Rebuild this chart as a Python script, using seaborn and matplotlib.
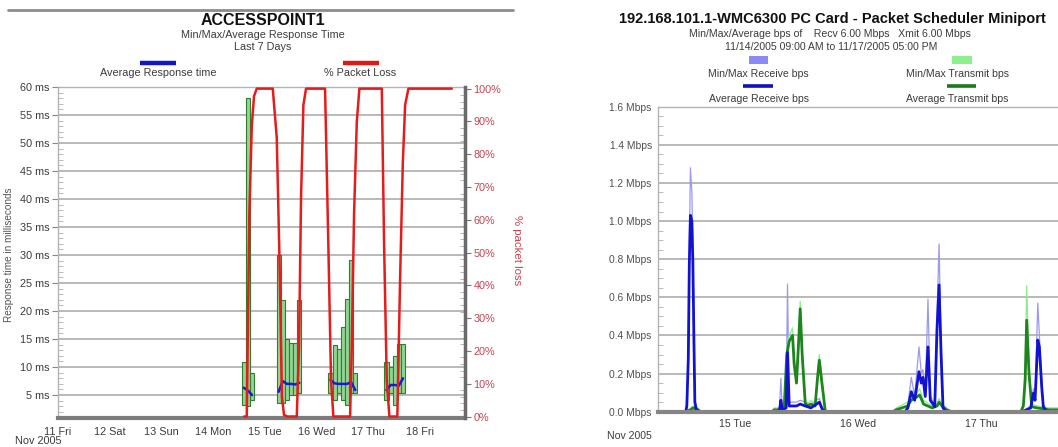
import matplotlib
matplotlib.use("Agg")
import matplotlib.pyplot as plt
from matplotlib.lines import Line2D
from matplotlib.patches import Rectangle
from matplotlib.ticker import MultipleLocator
import numpy as np
import seaborn as sns

# ---------------- data: left chart (ACCESSPOINT1) ----------------
day_ticks = [11, 12, 13, 14, 15, 16, 17, 18]
day_labels = ["11 Fri", "12 Sat", "13 Sun", "14 Mon", "15 Tue", "16 Wed", "17 Thu", "18 Fri"]
ms_ticks = [5, 10, 15, 20, 25, 30, 35, 40, 45, 50, 55, 60]
pct_ticks = [0, 10, 20, 30, 40, 50, 60, 70, 80, 90, 100]

rt_start = [14.553, 14.633, 14.713,
            15.226, 15.306, 15.386, 15.466, 15.546, 15.626,
            16.228, 16.308, 16.388, 16.468, 16.548, 16.628, 16.708,
            17.311, 17.391, 17.471, 17.551, 17.631]
rt_group = [1, 1, 1, 2, 2, 2, 2, 2, 2, 3, 3, 3, 3, 3, 3, 3, 4, 4, 4, 4, 4]
rt_min = [3.2, 3.0, 4.1, 3.5, 3.5, 4.1, 5.0, 5.0, 5.3,
          5.3, 4.1, 5.3, 4.1, 3.2, 5.3, 5.3, 4.1, 5.3, 3.2, 5.3, 5.3]
rt_max = [10.9, 58.0, 9.0, 30.0, 22.0, 15.0, 14.3, 14.3, 22.0,
          9.0, 13.9, 13.2, 17.1, 22.1, 29.1, 9.0, 10.9, 10.0, 12.0, 14.1, 14.1]
rt_avg = [6.3, 5.8, 5.0, 5.6, 7.5, 7.0, 7.0, 6.9, 7.2,
          7.7, 7.1, 7.0, 7.0, 7.0, 7.3, 5.9, 5.9, 6.8, 6.8, 6.7, 8.0]

loss_day = [14.60, 14.65, 14.70, 14.747, 14.79, 14.843, 15.153, 15.23, 15.28, 15.33, 15.37,
            15.435, 15.617, 15.66, 15.70, 15.745, 15.796, 16.164, 16.228, 16.28, 16.325,
            16.648, 16.68, 16.725, 16.778, 16.828, 17.261, 17.306, 17.357, 17.408, 17.562,
            17.615, 17.667, 17.712, 17.776, 18.615]
loss_pct = [0, 0, 62, 88.5, 97.7, 100, 100, 85, 50, 6, 0.5,
            0, 0, 21, 67, 95, 100, 100, 52, 11, 0,
            0, 21, 62, 90, 100, 100, 52, 11, 0, 0,
            42, 77, 95, 100, 100]

# ---------------- data: right chart (bps) ----------------
bps_ticks = [0.0, 0.2, 0.4, 0.6, 0.8, 1.0, 1.2, 1.4, 1.6]
bps_day_ticks = [15, 16, 17]
bps_day_labels = ["15 Tue", "16 Wed", "17 Thu"]

rx_t = [14.375, 14.600, 14.609, 14.621, 14.629, 14.638, 14.650, 14.658, 14.666, 14.674, 14.686, 14.707,
        15.300, 15.360, 15.372, 15.384, 15.415, 15.426, 15.440, 15.467, 15.499, 15.529, 15.570, 15.616,
        15.684, 15.710, 15.733,
        16.380, 16.403, 16.431, 16.458, 16.493, 16.512, 16.525, 16.544, 16.566, 16.585, 16.621, 16.639,
        16.656, 16.672, 16.688, 16.716,
        17.330, 17.400, 17.421, 17.435, 17.457, 17.470, 17.489, 17.502, 17.530, 17.708]
rx_avg = [0, 0, 0.03, 0.28, 0.77, 1.03, 1.00, 0.78, 0.40, 0.05, 0.01, 0,
          0, 0, 0.06, 0.01, 0.02, 0.31, 0.03, 0.03, 0.03, 0.04, 0.03, 0.02, 0.05, 0.01, 0,
          0, 0.02, 0.105, 0.06, 0.21, 0.15, 0.18, 0.08, 0.34, 0.06, 0.026, 0.43, 0.665, 0.31, 0.02, 0,
          0, 0.02, 0.097, 0.06, 0.376, 0.34, 0.13, 0.026, 0, 0]
rx_max = [0, 0, 0.05, 0.35, 0.85, 1.28, 1.15, 0.85, 0.45, 0.07, 0.02, 0,
          0, 0, 0.175, 0.02, 0.04, 0.67, 0.05, 0.05, 0.05, 0.06, 0.05, 0.04, 0.07, 0.02, 0,
          0, 0.04, 0.18, 0.08, 0.34, 0.20, 0.22, 0.10, 0.59, 0.08, 0.04, 0.50, 0.88, 0.36, 0.03, 0,
          0, 0.03, 0.12, 0.08, 0.57, 0.40, 0.16, 0.04, 0, 0]

tx_t = [14.600, 14.640, 14.660, 14.700, 14.720,
        15.300, 15.318, 15.350, 15.400, 15.420, 15.440, 15.467, 15.480, 15.499, 15.515, 15.529,
        15.545, 15.570, 15.590, 15.616, 15.650, 15.670, 15.684, 15.700, 15.733,
        16.280, 16.309, 16.400, 16.430, 16.470, 16.498, 16.530, 16.600, 16.640, 16.656, 16.680,
        16.716, 16.757,
        17.320, 17.340, 17.355, 17.367, 17.386, 17.408, 17.450, 17.550, 17.708]
tx_avg = [0, 0.01, 0.02, 0.01, 0,
          0, 0.01, 0.01, 0.03, 0.30, 0.37, 0.40, 0.25, 0.15, 0.35, 0.54, 0.30, 0.044, 0.03, 0.04,
          0.03, 0.18, 0.27, 0.18, 0,
          0, 0.01, 0.03, 0.06, 0.075, 0.088, 0.04, 0.02, 0.03, 0.05, 0.03, 0.01, 0,
          0, 0.03, 0.17, 0.48, 0.20, 0.026, 0.02, 0.01, 0.01]
tx_max = [0, 0.02, 0.03, 0.02, 0,
          0, 0.02, 0.02, 0.05, 0.34, 0.40, 0.44, 0.28, 0.18, 0.38, 0.58, 0.33, 0.06, 0.04, 0.06,
          0.04, 0.20, 0.30, 0.20, 0,
          0, 0.02, 0.05, 0.08, 0.09, 0.12, 0.06, 0.03, 0.04, 0.07, 0.04, 0.02, 0,
          0, 0.05, 0.25, 0.66, 0.24, 0.04, 0.03, 0.02, 0.02]

# ---------------- styling ----------------
sns.set_theme(style="white")
plt.rcParams["font.family"] = ["Liberation Sans", "DejaVu Sans"]

W, H = 1058, 447
fig = plt.figure(figsize=(W / 100, H / 100), dpi=100)
fig.patch.set_facecolor("white")

GRID = "#a6a6a6"
TXT = "#3c3c3c"
LOSS_TXT = "#c24452"
FS = 7.8


def px_ax(x0, y0, x1, y1):
    return fig.add_axes([x0 / W, 1 - y1 / H, (x1 - x0) / W, (y1 - y0) / H])


def ftext(x, y, s, **kw):
    kw.setdefault("ha", "center")
    kw.setdefault("va", "center")
    return fig.text(x / W, 1 - y / H, s, **kw)


# ================= LEFT CHART =================
fig.add_artist(Line2D([8 / W, 513 / W], [1 - 9.5 / H, 1 - 9.5 / H], color="#8c8c8c", lw=2))
ftext(263, 20.5, "ACCESSPOINT1", fontsize=11.5, fontweight="bold", color="#111111")
ftext(263, 35, "Min/Max/Average Response Time", fontsize=FS, color=TXT)
ftext(263, 46.5, "Last 7 Days", fontsize=FS, color=TXT)

fig.add_artist(Line2D([140 / W, 176 / W], [1 - 62.5 / H, 1 - 62.5 / H], color="#1414c8", lw=3.2,
                      solid_capstyle="butt"))
ftext(158, 73.5, "Average Response time", fontsize=FS, color=TXT)
fig.add_artist(Line2D([343 / W, 379 / W], [1 - 62.5 / H, 1 - 62.5 / H], color="#e01818", lw=3.2,
                      solid_capstyle="butt"))
ftext(360, 73.5, "% Packet Loss", fontsize=FS, color=TXT)

axL = px_ax(58, 87, 465, 417.5)
axL.set_facecolor("white")
axL.set_xlim(11, 18.87)
axL.set_ylim(1.0, 60)

axL.bar(rt_start, np.array(rt_max) - np.array(rt_min), bottom=rt_min, width=0.08, align="edge",
        color="#93d493", edgecolor="#2f7d2f", linewidth=0.8, zorder=3)
sns.lineplot(x=np.array(rt_start) + 0.04, y=rt_avg, units=rt_group, estimator=None, ax=axL,
             color="#1a1ad0", lw=1.8, zorder=4, legend=False)

axL.set_yticks(ms_ticks)
axL.set_yticklabels([f"{v} ms" for v in ms_ticks], fontsize=FS, color=TXT)
axL.yaxis.set_minor_locator(MultipleLocator(1))
axL.set_xticks(day_ticks)
axL.set_xticklabels(day_labels, fontsize=FS, color=TXT)
axL.tick_params(axis="y", which="major", direction="out", length=4, width=0.8, color="#888888", pad=2)
axL.tick_params(axis="y", which="minor", direction="in", length=3.5, width=0.6, color="#b0b0b0", left=True)
axL.tick_params(axis="x", which="major", direction="in", length=5, width=0.8, color="#999999", pad=7)
axL.grid(axis="y", which="major", color=GRID, lw=1.1)
axL.set_axisbelow(True)
for side in ["left", "top"]:
    axL.spines[side].set_color("#b4b4b4")
    axL.spines[side].set_linewidth(1.0)
axL.spines["right"].set_visible(False)
axL.spines["bottom"].set_color("#7c7c7c")
axL.spines["bottom"].set_linewidth(3)
axL.spines["bottom"].set_zorder(10)
axL.set_xlabel("")
axL.set_ylabel("")

axR = axL.twinx()
axR.set_ylim(-0.3, 100.5)
sns.lineplot(x=loss_day, y=loss_pct, ax=axR, color="#e41c1c", lw=1.8, estimator=None,
             zorder=5, legend=False)
axR.set_yticks(pct_ticks)
axR.set_yticklabels([f"{v}%" for v in pct_ticks], fontsize=FS, color=LOSS_TXT)
axR.yaxis.set_minor_locator(MultipleLocator(2))
axR.tick_params(axis="y", which="major", direction="out", length=4, width=0.8, color="#777777", pad=2)
axR.tick_params(axis="y", which="minor", direction="in", length=3.5, width=0.6, color="#aaaaaa", right=True)
for side in ["left", "top", "bottom"]:
    axR.spines[side].set_visible(False)
axR.spines["right"].set_color("#6a6a6a")
axR.spines["right"].set_linewidth(2.5)
axR.set_ylabel("")
axR.set_xlabel("")

ftext(517, 250, "% packet loss", fontsize=8.2, color=LOSS_TXT, rotation=-90)
ftext(9, 255, "Response time in milliseconds", fontsize=7.2, color="#555555", rotation=90)
ftext(15, 441, "Nov 2005", fontsize=FS, color=TXT, ha="left")

# ================= RIGHT CHART =================
ftext(832, 18.5, "192.168.101.1-WMC6300 PC Card - Packet Scheduler Miniport", fontsize=10.5,
      fontweight="bold", color="#111111")
ftext(830, 34, "Min/Max/Average bps of    Recv 6.00 Mbps   Xmit 6.00 Mbps", fontsize=7.6, color=TXT)
ftext(831, 46.5, "11/14/2005 09:00 AM to 11/17/2005 05:00 PM", fontsize=7.6, color=TXT)

fig.add_artist(Rectangle((749 / W, 1 - 64 / H), 19 / W, 7.5 / H, facecolor="#8a8af0", edgecolor="none"))
ftext(758, 74, "Min/Max Receive bps", fontsize=7.6, color=TXT)
fig.add_artist(Line2D([743 / W, 773 / W], [1 - 86 / H, 1 - 86 / H], color="#1010c0", lw=2.6,
                      solid_capstyle="butt"))
ftext(759, 99, "Average Receive bps", fontsize=7.6, color=TXT)

fig.add_artist(Rectangle((952 / W, 1 - 64 / H), 20 / W, 7.5 / H, facecolor="#8cf08c", edgecolor="none"))
ftext(957, 74, "Min/Max Transmit bps", fontsize=7.6, color=TXT)
fig.add_artist(Line2D([947 / W, 976 / W], [1 - 86 / H, 1 - 86 / H], color="#1a7a1a", lw=2.6,
                      solid_capstyle="butt"))
ftext(957, 99, "Average Transmit bps", fontsize=7.6, color=TXT)

axB = px_ax(658, 106.7, 1068.7, 411.7)
axB.set_facecolor("white")
axB.set_xlim(14.375, 17.708)
axB.set_ylim(0, 1.6)

sns.lineplot(x=rx_t, y=rx_max, ax=axB, color="#9a9aee", lw=0.9, estimator=None, legend=False, zorder=2)
sns.lineplot(x=tx_t, y=tx_max, ax=axB, color="#90ea90", lw=0.9, estimator=None, legend=False, zorder=2)
sns.lineplot(x=tx_t, y=tx_avg, ax=axB, color="#1c861c", lw=2.0, estimator=None, legend=False, zorder=3)
sns.lineplot(x=rx_t, y=rx_avg, ax=axB, color="#1212d2", lw=2.0, estimator=None, legend=False, zorder=4)

axB.set_yticks(bps_ticks)
axB.set_yticklabels([f"{v:.1f} Mbps" for v in bps_ticks], fontsize=7.4, color="#505050")
axB.yaxis.set_minor_locator(MultipleLocator(0.05))
axB.set_xticks(bps_day_ticks)
axB.set_xticklabels(bps_day_labels, fontsize=7.6, color=TXT)
axB.tick_params(axis="y", which="major", direction="out", length=3.5, width=0.8, color="#888888", pad=1)
axB.tick_params(axis="y", which="minor", direction="in", length=3.5, width=0.6, color="#b0b0b0", left=True)
axB.tick_params(axis="x", which="major", direction="in", length=6, width=0.8, color="#bbbbbb", pad=5)
axB.grid(axis="y", which="major", color=GRID, lw=1.1)
axB.set_axisbelow(True)
for side in ["left", "top"]:
    axB.spines[side].set_color("#b4b4b4")
    axB.spines[side].set_linewidth(1.0)
axB.spines["right"].set_visible(False)
axB.spines["bottom"].set_color("#858585")
axB.spines["bottom"].set_linewidth(3)
axB.spines["bottom"].set_zorder(10)
axB.set_xlabel("")
axB.set_ylabel("")

ftext(607, 436, "Nov 2005", fontsize=7.6, color=TXT, ha="left")

fig.savefig("out.png", dpi=100, facecolor="white")
